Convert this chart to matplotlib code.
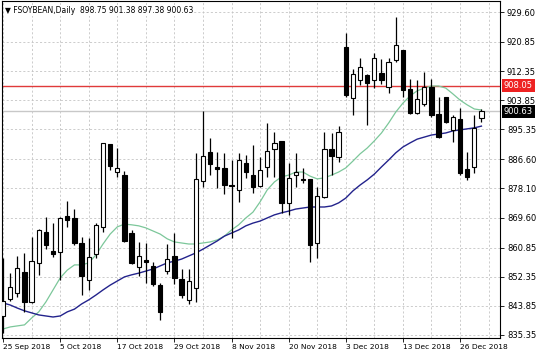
import numpy as np
import matplotlib
matplotlib.use('Agg')
import matplotlib.pyplot as plt
import matplotlib.transforms as mtransforms

# daily OHLC, 25 Sep 2018 .. 31 Dec 2018
opens = [840.9, 845.9, 847.6, 853.7, 845.0, 856.4, 865.4, 859.9, 859.6, 870.1,
         869.5, 862.2, 851.4, 859.0, 866.9, 891.1, 882.9, 882.0, 865.1, 855.2,
         857.2, 855.5, 849.9, 854.0, 858.4, 851.7, 845.6, 849.1, 880.3, 888.8,
         884.4, 884.1, 879.1, 877.7, 885.5, 882.0, 878.8, 884.4, 889.6, 892.0,
         873.9, 882.0, 880.9, 880.9, 862.2, 875.6, 889.6, 887.3, 919.4, 904.5,
         909.8, 911.2, 909.8, 911.8, 907.7, 915.6, 918.5, 907.1, 900.1, 902.8,
         907.7, 899.8, 904.8, 895.2, 898.4, 883.8, 884.4, 898.75]
highs = [857.8, 853.4, 858.4, 859.3, 863.9, 866.3, 869.8, 868.0, 869.8, 874.5,
         872.1, 863.9, 863.7, 868.0, 891.4, 891.1, 889.9, 883.2, 866.0, 862.5,
         862.2, 856.7, 850.5, 861.9, 865.1, 854.6, 854.6, 888.5, 900.7, 892.8,
         888.8, 888.5, 886.4, 888.5, 887.9, 890.8, 887.3, 897.2, 894.6, 892.0,
         885.5, 888.5, 884.1, 880.9, 878.5, 894.6, 894.3, 896.3, 923.5, 913.0,
         916.2, 911.5, 917.6, 915.9, 916.2, 928.1, 918.6, 910.1, 909.8, 912.1,
         910.1, 904.8, 904.9, 899.5, 901.6, 888.8, 899.5, 901.38]
lows = [835.8, 845.3, 846.4, 842.1, 844.7, 852.9, 860.4, 858.1, 851.4, 866.9,
        861.6, 847.0, 848.5, 857.8, 865.4, 883.5, 881.5, 862.5, 856.2, 852.6,
        850.5, 849.6, 839.7, 853.2, 850.2, 846.1, 844.4, 845.0, 878.5, 882.0,
        878.2, 876.5, 863.7, 874.2, 881.2, 876.8, 878.5, 881.5, 881.5, 871.0,
        870.4, 878.5, 879.7, 856.7, 857.8, 875.3, 882.0, 885.8, 904.8, 899.5,
        908.3, 896.6, 907.4, 908.6, 906.0, 915.0, 904.8, 899.9, 899.9, 902.2,
        899.0, 892.8, 897.2, 891.7, 882.0, 880.6, 882.6, 897.38]
closes = [845.3, 849.4, 854.9, 845.0, 856.9, 866.0, 861.6, 859.0, 869.5, 868.9,
          862.2, 852.6, 858.1, 867.5, 891.4, 884.7, 884.1, 862.8, 856.4, 858.4,
          856.7, 850.2, 842.1, 857.5, 852.0, 847.0, 851.1, 880.9, 887.6, 885.3,
          883.8, 879.1, 878.8, 886.4, 882.9, 878.5, 883.5, 889.0, 891.4, 873.9,
          881.2, 882.9, 880.6, 861.6, 875.9, 889.6, 887.6, 894.6, 905.4, 911.5,
          913.6, 908.9, 916.2, 909.8, 915.0, 920.0, 906.8, 900.1, 904.2, 907.7,
          899.5, 893.1, 897.5, 899.0, 882.6, 881.5, 895.8, 900.63]

# moving averages as drawn on the chart
ma_fast = [837.1, 837.7, 838.0, 838.3, 840.3, 842.1, 845.0, 848.5, 852.0, 854.3,
           855.8, 855.8, 856.4, 858.7, 861.9, 864.8, 866.9, 867.7, 867.5, 867.2,
           866.6, 865.7, 864.8, 863.4, 862.5, 862.2, 861.9, 861.9, 862.2, 862.5,
           863.1, 864.2, 866.0, 867.5, 869.5, 871.2, 874.2, 877.7, 880.0, 881.5,
           882.0, 882.9, 882.9, 881.7, 880.9, 881.2, 882.0, 882.9, 884.1, 886.1,
           888.2, 889.9, 892.0, 894.3, 897.2, 900.4, 903.0, 905.1, 906.6, 907.4,
           908.0, 908.0, 907.4, 905.7, 903.9, 902.5, 901.3, 901.0]
ma_slow = [844.7, 844.1, 843.2, 842.4, 841.8, 841.2, 840.9, 840.6, 840.9, 842.1,
           842.9, 844.4, 845.6, 847.0, 848.5, 849.9, 851.1, 852.3, 852.9, 853.4,
           854.0, 854.6, 855.5, 856.4, 856.9, 857.5, 858.4, 859.3, 860.4, 861.6,
           862.8, 864.2, 865.1, 866.0, 867.2, 868.0, 868.6, 869.5, 870.4, 871.0,
           871.5, 872.1, 872.4, 872.7, 872.7, 872.7, 873.0, 873.9, 875.3, 877.4,
           879.1, 880.6, 882.3, 884.4, 886.4, 888.5, 890.2, 891.4, 892.5, 893.1,
           893.7, 894.0, 894.3, 894.9, 895.2, 895.5, 895.8, 896.3]

date_labels = ['25 Sep 2018', '5 Oct 2018', '17 Oct 2018', '29 Oct 2018', '8 Nov 2018',
               '20 Nov 2018', '3 Dec 2018', '13 Dec 2018', '26 Dec 2018']
price_levels = [929.60, 920.85, 912.35, 903.85, 895.35, 886.60, 878.10,
                869.60, 860.85, 852.35, 843.85, 835.35]
level_line = 908.05
last_price = 900.63

fig = plt.figure(figsize=(5.36, 3.56), dpi=100)
ax = fig.add_axes([2 / 536, 18 / 356, 498 / 536, 337 / 356])

n = len(opens)
x = np.arange(n)

# grid
for gx in range(0, 72, 4):
    ax.axvline(gx, color='#c4c4c4', lw=0.6, ls=(0, (2.5, 2.5)), zorder=0)
for lv in price_levels:
    ax.axhline(lv, color='#c4c4c4', lw=0.6, ls=(0, (2.5, 2.5)), zorder=0)

ax.axhline(last_price, color='#c8c8c8', lw=1.0, zorder=1)
ax.axhline(level_line, color='#e03a3a', lw=1.0, zorder=1)

ax.plot(x, ma_fast, color='#7cc79a', lw=0.9, zorder=2)
ax.plot(x, ma_slow, color='#23238c', lw=1.0, zorder=2)

o = np.array(opens)
c = np.array(closes)
up = c >= o
ax.vlines(x, lows, highs, color='black', lw=0.9, zorder=3)
body = np.maximum(np.abs(c - o), 0.25)
ax.bar(x, body, bottom=np.minimum(o, c), width=0.6,
       color=np.where(up, 'white', 'black'), edgecolor='black', lw=0.8, zorder=4)

ax.set_xlim(-0.15, 69.6)
ax.set_ylim(834.47, 932.81)

ax.yaxis.tick_right()
ax.set_yticks(price_levels)
ax.set_yticklabels([f'{v:.2f}' for v in price_levels])
ax.tick_params(axis='y', labelsize=6, length=3, width=0.6, pad=2)
ax.set_xticks(range(0, 72, 8))
ax.set_xticklabels(date_labels, ha='left')
ax.tick_params(axis='x', labelsize=5.4, length=3, width=0.6, pad=1.5)

for s in ax.spines.values():
    s.set_color('black')
    s.set_linewidth(0.8)

trans = mtransforms.blended_transform_factory(ax.transAxes, ax.transData)
ax.text(1.008, level_line, f'{level_line:.2f}', transform=trans, fontsize=6,
        color='white', va='center', ha='left', zorder=6,
        bbox=dict(boxstyle='square,pad=0.25', fc='#ee2222', ec='none'))
ax.text(1.008, last_price, f'{last_price:.2f}', transform=trans, fontsize=6,
        color='white', va='center', ha='left', zorder=6,
        bbox=dict(boxstyle='square,pad=0.25', fc='black', ec='none'))

ax.text(0.006, 0.985, '\u25bc FSOYBEAN,Daily  %.2f %.2f %.2f %.2f'
        % (opens[-1], highs[-1], lows[-1], closes[-1]),
        transform=ax.transAxes, fontsize=5.5, va='top', ha='left', color='black',
        bbox=dict(fc='white', ec='none', pad=0.5))

fig.savefig('out.png', dpi=100)
